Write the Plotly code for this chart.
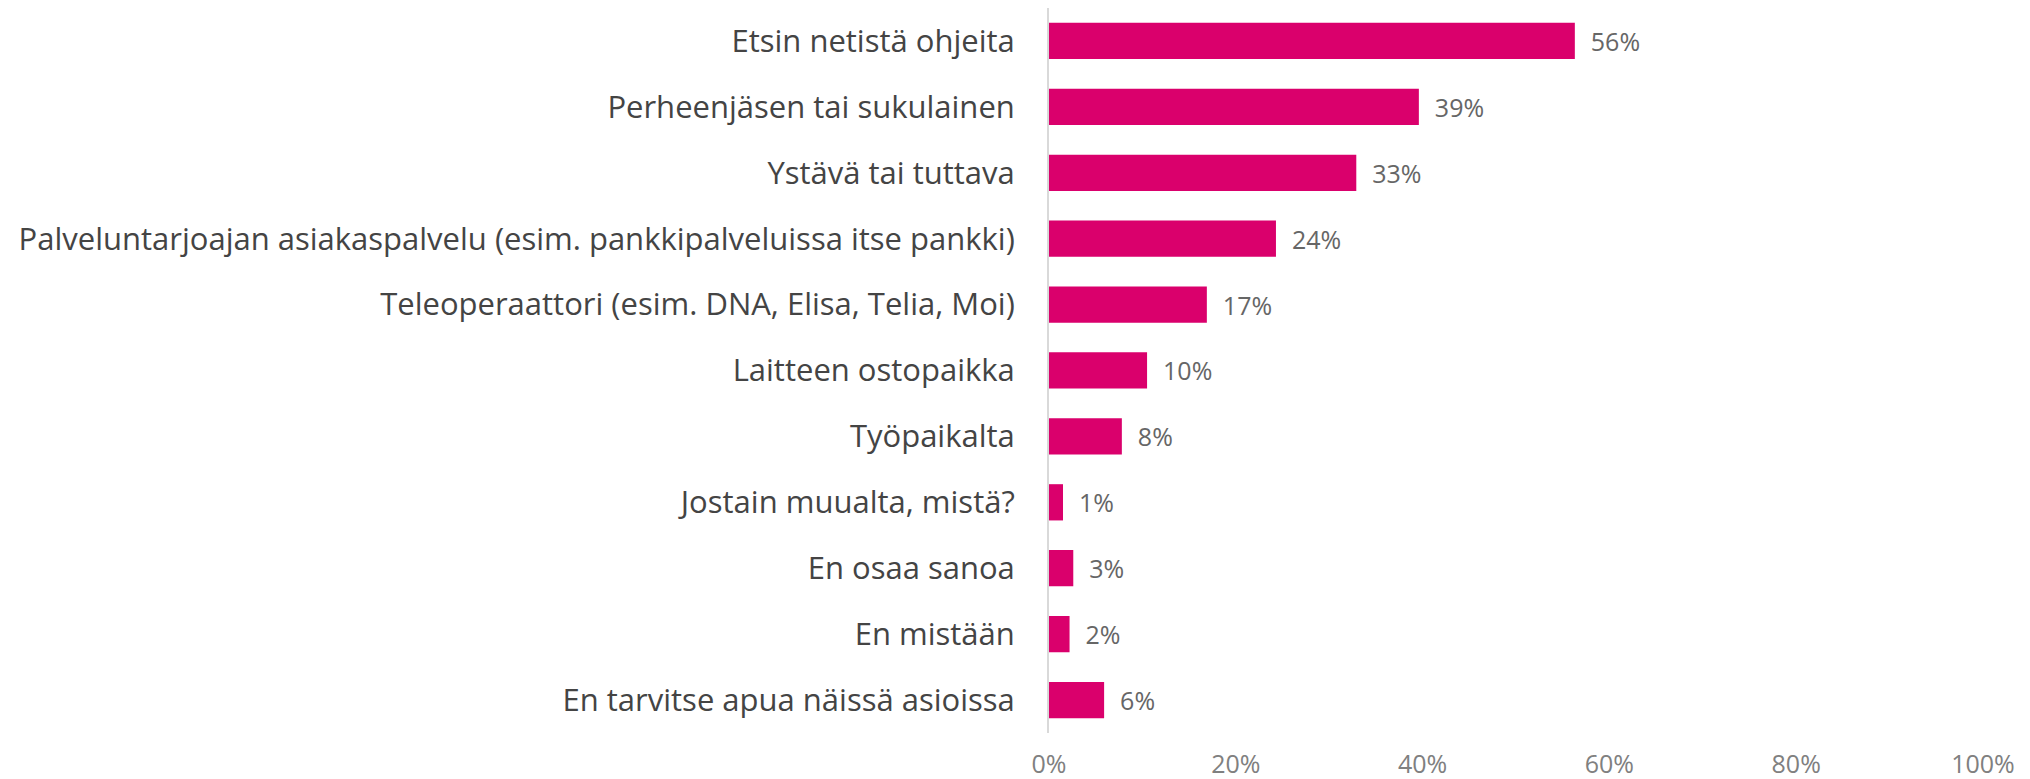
import plotly.graph_objects as go

categories = [
    "Etsin netistä ohjeita",
    "Perheenjäsen tai sukulainen",
    "Ystävä tai tuttava",
    "Palveluntarjoajan asiakaspalvelu (esim. pankkipalveluissa itse pankki)",
    "Teleoperaattori (esim. DNA, Elisa, Telia, Moi)",
    "Laitteen ostopaikka",
    "Työpaikalta",
    "Jostain muualta, mistä?",
    "En osaa sanoa",
    "En mistään",
    "En tarvitse apua näissä asioissa",
]
# bar lengths (percent)
values = [56.3, 39.6, 32.9, 24.3, 16.9, 10.5, 7.8, 1.5, 2.6, 2.2, 5.9]
# value labels printed next to the bars
value_labels = ["56%", "39%", "33%", "24%", "17%", "10%", "8%", "1%", "3%", "2%", "6%"]
x_ticks = [0, 20, 40, 60, 80, 100]
tick_labels = ["0%", "20%", "40%", "60%", "80%", "100%"]

fig = go.Figure(go.Bar(
    x=values,
    y=categories,
    orientation="h",
    text=value_labels,
    marker=dict(color="#DA006C", line=dict(width=0)),
    texttemplate="  %{text}",
    textposition="outside",
    textfont=dict(family="Open Sans", size=25, color="#666666"),
    cliponaxis=False,
    width=0.55,
))

fig.update_layout(
    width=2030,
    height=779,
    margin=dict(l=1049, r=47, t=8, b=46),
    paper_bgcolor="white",
    plot_bgcolor="white",
    showlegend=False,
    font=dict(family="Open Sans"),
    xaxis=dict(
        range=[0, 100],
        tickvals=x_ticks,
        ticktext=tick_labels,
        showgrid=False,
        zeroline=False,
        showline=False,
        automargin=False,
        tickfont=dict(family="Open Sans", size=25, color="#808080"),
        ticklabelstandoff=14,
    ),
    yaxis=dict(
        categoryorder="array",
        categoryarray=categories,
        autorange="reversed",
        showgrid=False,
        zeroline=False,
        showline=True,
        automargin=False,
        linecolor="#D9D9D9",
        linewidth=2,
        tickfont=dict(family="Open Sans", size=31, color="#444444"),
        ticklabelstandoff=26,
    ),
)

fig.write_html(
    "out.html",
    config={"displayModeBar": False},
    post_script="document.body.style.margin='0';",
)
